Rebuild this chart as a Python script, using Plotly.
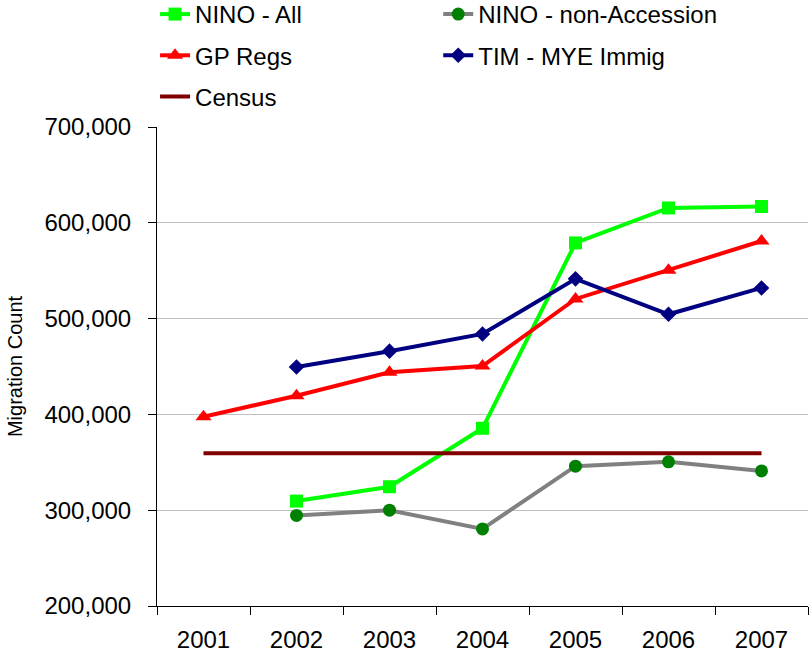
import plotly.graph_objects as go

years = ["2001", "2002", "2003", "2004", "2005", "2006", "2007"]
nino_all = [None, 309500, 324500, 385500, 579000, 615500, 617000]
nino_non_acc = [None, 294500, 300000, 280500, 346000, 350500, 341000]
gp_regs = [397500, 419500, 444000, 450500, 520500, 550500, 581000]
tim_mye = [None, 449500, 466000, 484000, 541500, 504500, 532000]
census = [359500] * 7

y_ticks = [200000, 300000, 400000, 500000, 600000, 700000]
y_tick_labels = ["200,000", "300,000", "400,000", "500,000", "600,000", "700,000"]

FONT = "Liberation Sans, Arial, sans-serif"
LW = 4

fig = go.Figure()

fig.add_trace(go.Scatter(
    x=years, y=nino_all, name="NINO - All", mode="lines+markers",
    line=dict(color="#00FF00", width=LW),
    marker=dict(symbol="square", size=13, color="#00FF00"),
    legend="legend", legendgroup="a"))
fig.add_trace(go.Scatter(
    x=years, y=nino_non_acc, name="NINO - non-Accession", mode="lines+markers",
    line=dict(color="#808080", width=LW),
    marker=dict(symbol="circle", size=13, color="#008000"),
    legend="legend2", legendgroup="b"))
fig.add_trace(go.Scatter(
    x=years, y=gp_regs, name="GP Regs", mode="lines+markers",
    line=dict(color="#FF0000", width=LW),
    marker=dict(symbol="triangle-up", size=14, color="#FF0000"),
    legend="legend", legendgroup="c"))
fig.add_trace(go.Scatter(
    x=years, y=tim_mye, name="TIM - MYE Immig", mode="lines+markers",
    line=dict(color="#000080", width=LW),
    marker=dict(symbol="diamond", size=12, color="#000080"),
    legend="legend2", legendgroup="d"))
fig.add_trace(go.Scatter(
    x=years, y=census, name="Census", mode="lines",
    line=dict(color="#800000", width=LW),
    legend="legend", legendgroup="e"))

# pixel -> paper y for legend top placement
plot_top, plot_bottom = 127, 606
leg_top_px = -8
leg_y = (plot_bottom - leg_top_px) / (plot_bottom - plot_top)

fig.update_layout(
    width=809, height=655,
    margin=dict(l=157, r=1, t=127, b=49, autoexpand=False),
    paper_bgcolor="white", plot_bgcolor="white",
    font=dict(family=FONT, size=24, color="black"),
    legend=dict(x=-0.003, xanchor="left", y=leg_y, yanchor="top",
                orientation="v", traceorder="grouped", tracegroupgap=7,
                font=dict(size=24), bgcolor="rgba(0,0,0,0)"),
    legend2=dict(x=0.432, xanchor="left", y=leg_y, yanchor="top",
                 orientation="v", traceorder="grouped", tracegroupgap=7,
                 font=dict(size=24), bgcolor="rgba(0,0,0,0)"),
    xaxis=dict(type="category", tickson="boundaries", ticks="outside", ticklen=8,
               tickcolor="black", showline=True, linecolor="black", linewidth=1,
               showgrid=False, ticklabelstandoff=12, tickfont=dict(size=24),
               range=[-0.5, 6.5], automargin=False),
    yaxis=dict(range=[200000, 700000], tickvals=y_ticks, ticktext=y_tick_labels,
               ticks="outside", ticklen=8, tickcolor="black",
               showline=True, linecolor="black", linewidth=1,
               showgrid=True, gridcolor="#C0C0C0", gridwidth=1,
               zeroline=False, tickfont=dict(size=24), ticklabelstandoff=12,
               automargin=False,
               title=dict(text="Migration Count", font=dict(size=20), standoff=16)),
)

fig.write_html("out.html", config={"displayModeBar": False},
               post_script="document.body.style.margin='0px';")
